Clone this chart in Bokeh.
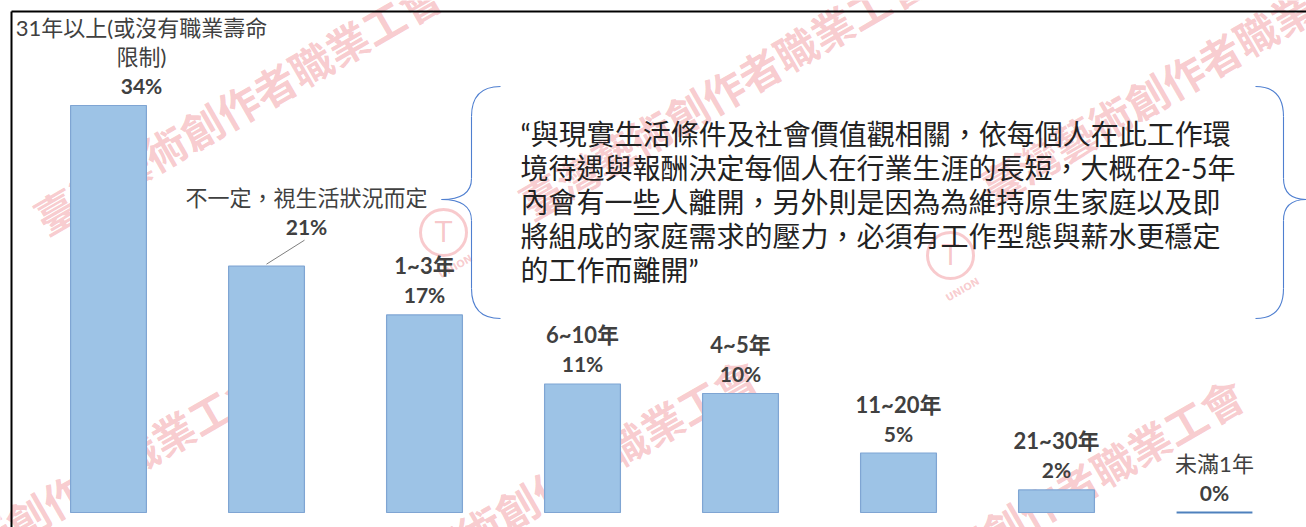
import numpy as np
from bokeh.plotting import figure
from bokeh.models import Range1d, ColumnDataSource
from bokeh.core.properties import value
from bokeh.embed import file_html
from bokeh.resources import INLINE

# ---------------- data ----------------
categories = [
    "31年以上(或沒有職業壽命\n限制)",
    "不一定，視生活狀況而定",
    "1~3年",
    "6~10年",
    "4~5年",
    "11~20年",
    "21~30年",
    "未滿1年",
]
percentages = [34.2, 20.7, 16.6, 10.8, 10.0, 5.0, 1.9, 0.0]

quote_lines = [
    "“與現實生活條件及社會價值觀相關，依每個人在此工作環",
    "境待遇與報酬決定每個人在行業生涯的長短，大概在2-5年",
    "內會有一些人離開，另外則是因為為維持原生家庭以及即",
    "將組成的家庭需求的壓力，必須有工作型態與薪水更穩定",
    "的工作而離開”",
]
watermark_text = "臺灣藝術創作者職業工會"

# ---------------- layout constants ----------------
W, H = 1306, 527
PX_PER_CAT = 158.0
PX_PER_PCT = 11.9
X0_PX = 108.0      # px of first category centre
BASE_PX = 512.0    # px of the 0 % baseline
PAGE = 0

def dx(ix):  # window px -> data x
    return (ix - PAGE - X0_PX) / PX_PER_CAT

def dy(iy):  # window px -> data y
    return (BASE_PX - (iy - PAGE)) / PX_PER_PCT

x_range = Range1d(-X0_PX / PX_PER_CAT, (W - X0_PX) / PX_PER_CAT)
y_range = Range1d(-(H - BASE_PX) / PX_PER_PCT, BASE_PX / PX_PER_PCT)

p = figure(width=W, height=H, x_range=x_range, y_range=y_range,
           output_backend="svg", toolbar_location=None,
           x_axis_location=None, y_axis_location=None, min_border=0)
p.grid.visible = False
p.outline_line_color = None
p.background_fill_color = "white"
p.border_fill_color = "white"

FONT = "Lato, 'Noto Sans CJK TC', sans-serif"
CJK = "'Noto Sans CJK TC', sans-serif"
PINK = "#e8505a"

# ---------------- watermark (behind everything) ----------------
wm_starts = [(37, 220), (522, 205), (982, 190), (-137, 610), (352, 600), (839, 620)]
p.text(x=[dx(a) for a, b in wm_starts], y=[dy(b) for a, b in wm_starts],
       text=[watermark_text] * len(wm_starts), angle=np.pi / 6,
       text_font=value(CJK), text_font_style="bold", text_font_size="42px",
       text_color=PINK, text_alpha=0.3, text_align="left", text_baseline="middle")
logo_pos = [(443, 232), (950, 255)]
lx = [dx(a) for a, b in logo_pos]
ly = [dy(b) for a, b in logo_pos]
p.scatter(lx, ly, size=46, marker="circle", fill_color=None,
          line_color=PINK, line_alpha=0.3, line_width=3)
p.text(lx, ly, text=["T"] * 2, text_font=value("DejaVu Sans"), text_font_size="28px",
       text_color=PINK, text_alpha=0.32, text_align="center", text_baseline="middle")
p.text([x + 12 / PX_PER_CAT for x in lx], [y - 34 / PX_PER_PCT for y in ly],
       text=["UNION"] * 2, angle=np.pi / 6, text_font=value("DejaVu Sans"),
       text_font_style="bold", text_font_size="10px",
       text_color=PINK, text_alpha=0.3, text_align="center", text_baseline="middle")

# ---------------- bars ----------------
idx = list(range(len(categories)))
bar_src = ColumnDataSource(dict(
    x=idx, top=percentages,
    lc=["#4f81bd" if v == 0 else "#7fa5d3" for v in percentages],
    lw=[2.2 if v == 0 else 1.2 for v in percentages]))
p.vbar(x="x", top="top", bottom=0, width=0.48, source=bar_src,
       fill_color="#9dc3e6", line_color="lc", line_width="lw")

# ---------------- labels ----------------
label_dx = [33, 40, 0, 0, 0, 0, 0, 0]
label_dy = [0, -20, 0, 0, 0, 0, 0, 0]

vsrc = ColumnDataSource(dict(
    x=idx, y=percentages,
    text=[f"{round(v)}%" for v in percentages],
    xo=label_dx, yo=[-20 + d for d in label_dy]))
p.text(x="x", y="y", text="text", x_offset="xo", y_offset="yo", source=vsrc,
       text_font=value(FONT), text_font_style="bold", text_font_size="21px",
       text_color="#404040", text_align="center", text_baseline="middle")

cx, cy, ct, cxo, cyo, cst = [], [], [], [], [], []
for i, name in enumerate(categories):
    lines = name.split("\n")
    for j, line in enumerate(reversed(lines)):
        ascii_n = sum(1 for ch in line if ord(ch) < 128)
        cjk_n = len(line) - ascii_n
        cx.append(i)
        cy.append(percentages[i])
        ct.append(line)
        cxo.append(label_dx[i])
        cyo.append(-49 - 29 * j + label_dy[i])
        cst.append("bold" if ascii_n >= cjk_n else "normal")
csrc = ColumnDataSource(dict(x=cx, y=cy, text=ct, xo=cxo, yo=cyo, st=cst))
p.text(x="x", y="y", text="text", x_offset="xo", y_offset="yo", source=csrc,
       text_font=value(FONT), text_font_style="st", text_font_size="22px",
       text_color="#404040", text_align="center", text_baseline="middle")

# leader line for second label
p.segment(x0=[idx[1]], y0=[percentages[1] + 2 / PX_PER_PCT],
          x1=[idx[1] + 38 / PX_PER_CAT], y1=[percentages[1] + 26 / PX_PER_PCT],
          line_color="#7f7f7f", line_width=1)

# ---------------- braces ----------------
BLUE = "#4f7fd0"
def brace(xv, xo, xt, yt, yb, ym):
    quads = [
        (xo, yt, xv, yt + 30, xv, yt),
        (xv, ym - 21, xt, ym, xv, ym),
        (xt, ym, xv, ym + 21, xv, ym),
        (xv, yb - 30, xo, yb, xv, yb),
    ]
    segs = [(xv, yt + 30, xv, ym - 21), (xv, ym + 21, xv, yb - 30)]
    p.quadratic(x0=[dx(q[0]) for q in quads], y0=[dy(q[1]) for q in quads],
                x1=[dx(q[2]) for q in quads], y1=[dy(q[3]) for q in quads],
                cx=[dx(q[4]) for q in quads], cy=[dy(q[5]) for q in quads],
                line_color=BLUE, line_width=1.1)
    p.segment(x0=[dx(s[0]) for s in segs], y0=[dy(s[1]) for s in segs],
              x1=[dx(s[2]) for s in segs], y1=[dy(s[3]) for s in segs],
              line_color=BLUE, line_width=1.1)

brace(471, 500, 441, 86, 318, 199)
brace(1283, 1255, 1306, 86, 318, 199)

# ---------------- quote text ----------------
p.text(x=[dx(520)] * len(quote_lines),
       y=[dy(133 + 34 * i) for i in range(len(quote_lines))],
       text=quote_lines, text_font=value(FONT), text_font_size="28px",
       text_color="#222222", text_align="left", text_baseline="middle")

# ---------------- frame border (left + top) ----------------
p.segment(x0=[dx(11), dx(11)], y0=[dy(11), dy(11)],
          x1=[dx(1320), dx(11)], y1=[dy(11), dy(540)],
          line_color="black", line_width=2)

open("out.html", "w").write(file_html(p, INLINE))
